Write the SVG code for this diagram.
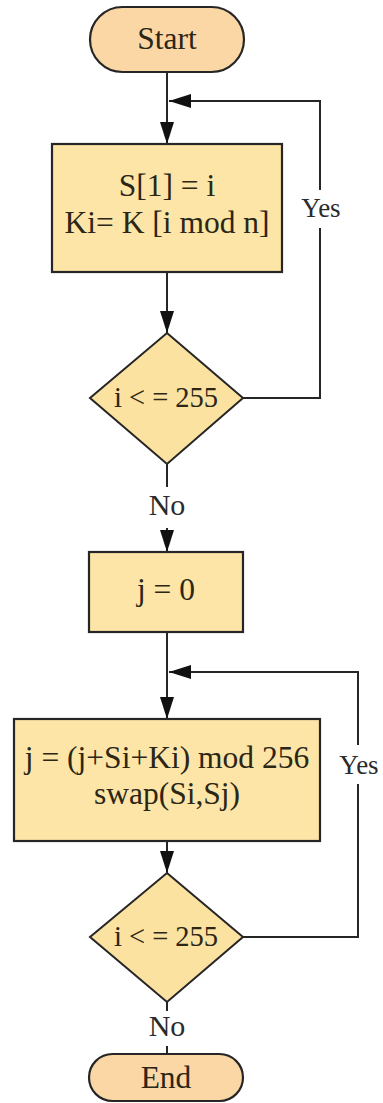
<svg xmlns="http://www.w3.org/2000/svg" width="383" height="1103" viewBox="0 0 383 1103">
  <defs>
    <style>
      .term { fill: #fbd7a6; stroke: #262626; stroke-width: 2.2; }
      .proc { fill: #fce5a6; stroke: #262626; stroke-width: 2.2; }
      .dec  { fill: #fce2a0; stroke: #262626; stroke-width: 2; }
      .lbl  { font-family: "Liberation Serif", "Times New Roman", serif; font-size: 31.5px; fill: #2b2616; text-anchor: middle; }
      .dlbl { font-size: 28.5px; }
      .edge { font-family: "Liberation Serif", "Times New Roman", serif; font-size: 30px; fill: #2b2b2b; text-anchor: middle; }
      .yes  { font-size: 27px; }
      .wire { fill: none; stroke: #262626; stroke-width: 2; }
    </style>
    <marker id="arrow" markerUnits="userSpaceOnUse" markerWidth="22" markerHeight="14" refX="22" refY="7" orient="auto">
      <path d="M0,0 L22,7 L0,14 z" fill="#111"/>
    </marker>
  </defs>

  <!-- connectors -->
  <g id="connectors">
    <line class="wire" x1="167" y1="72" x2="167" y2="144" marker-end="url(#arrow)"/>
    <polyline class="wire" points="243,398 320,398 320,228"/>
    <polyline class="wire" points="320,190 320,101 169,101" marker-end="url(#arrow)"/>
    <line class="wire" x1="167" y1="272" x2="167" y2="333" marker-end="url(#arrow)"/>
    <line class="wire" x1="167" y1="464" x2="167" y2="487"/>
    <line class="wire" x1="167" y1="528" x2="167" y2="552" marker-end="url(#arrow)"/>
    <line class="wire" x1="167" y1="632" x2="167" y2="719" marker-end="url(#arrow)"/>
    <polyline class="wire" points="243,937 358,937 358,784"/>
    <polyline class="wire" points="358,745 358,672 169,672" marker-end="url(#arrow)"/>
    <line class="wire" x1="167" y1="841" x2="167" y2="873" marker-end="url(#arrow)"/>
    <line class="wire" x1="167" y1="1002" x2="167" y2="1011"/>
    <line class="wire" x1="167" y1="1046" x2="167" y2="1054"/>
    <text class="edge yes" x="321" y="217">Yes</text>
    <text class="edge" x="167" y="515">No</text>
    <text class="edge yes" x="359" y="774">Yes</text>
    <text class="edge" x="167" y="1036">No</text>
  </g>

  <g id="start">
    <rect class="term" x="90" y="7" width="154" height="65" rx="32.5"/>
    <text class="lbl" x="167" y="49">Start</text>
  </g>

  <g id="init-s-k">
    <rect class="proc" x="52" y="144" width="230" height="128"/>
    <text class="lbl" x="167" y="196">S[1] = i</text>
    <text class="lbl" x="167" y="233">Ki= K [i mod n]</text>
  </g>

  <g id="check-i-1">
    <polygon class="dec" points="167,333 243,398 167,464 90,398"/>
    <text class="lbl dlbl" x="166" y="407">i &lt; = 255</text>
  </g>

  <g id="init-j">
    <rect class="proc" x="89" y="552" width="154" height="80"/>
    <text class="lbl" x="166" y="600">j = 0</text>
  </g>

  <g id="swap-step">
    <rect class="proc" x="14" y="719" width="306" height="122"/>
    <text class="lbl" x="167" y="768">j = (j+Si+Ki) mod 256</text>
    <text class="lbl" x="167" y="804">swap(Si,Sj)</text>
  </g>

  <g id="check-i-2">
    <polygon class="dec" points="167,873 243,937 167,1002 90,937"/>
    <text class="lbl dlbl" x="166" y="946">i &lt; = 255</text>
  </g>

  <g id="end">
    <rect class="term" x="89" y="1054" width="154" height="47" rx="23.5"/>
    <text class="lbl" x="166" y="1088">End</text>
  </g>
</svg>
